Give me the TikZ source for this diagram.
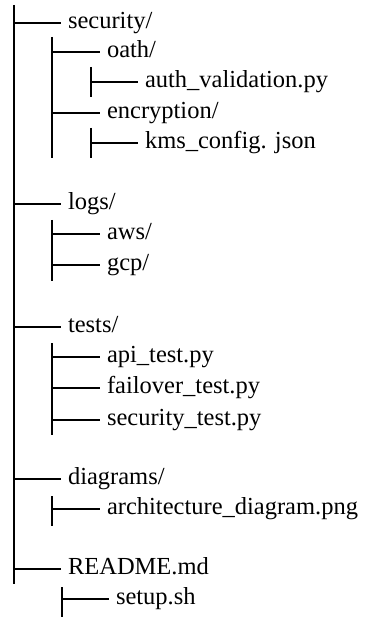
\documentclass[tikz,border=0pt]{standalone}
\usepackage{fontspec}
\setmainfont{Liberation Serif}
\begin{document}
\fontsize{24.5}{28}\selectfont
\begin{tikzpicture}[x=1pt,y=-1pt,line width=2pt,
  item/.style={anchor=mid west,inner sep=0pt,outer xsep=7pt,font=\fontsize{24.5}{28}\selectfont}]
\fontsize{24.5}{28}\selectfont
\useasboundingbox (0,0) rectangle (375,617);
% nodes
\node[item] (security)   at (61,23)  {security/};
\node[item] (oath)       at (100,52) {oath/};
\node[item] (auth)       at (138,82) {auth\_validation.py};
\node[item] (encryption) at (100,113) {encryption/};
\node[item] (kms)        at (138,143) {kms\_config. json};
\node[item] (logs)       at (61,204) {logs/};
\node[item] (aws)        at (100,234) {aws/};
\node[item] (gcp)        at (100,265) {gcp/};
\node[item] (tests)      at (61,327) {tests/};
\node[item] (api)        at (100,357) {api\_test.py};
\node[item] (failover)   at (100,388) {failover\_test.py};
\node[item] (sectest)    at (100,420) {security\_test.py};
\node[item] (diagrams)   at (61,479) {diagrams/};
\node[item] (arch)       at (100,509) {architecture\_diagram.png};
\node[item] (readme)     at (61,569) {README.md};
\node[item] (setup)      at (109,599) {setup.sh};
% vertical trunks
\coordinate (m0) at (14,5);   \coordinate (m1) at (14,584);
\coordinate (s0) at (52,37);  \coordinate (s1) at (52,158);
\coordinate (o0) at (91,67);  \coordinate (o1) at (91,97);
\coordinate (e0) at (91,128); \coordinate (e1) at (91,158);
\coordinate (l0) at (52,220); \coordinate (l1) at (52,281);
\coordinate (t0) at (52,343); \coordinate (t1) at (52,435);
\coordinate (d0) at (52,496); \coordinate (d1) at (52,526);
\coordinate (r0) at (62,587); \coordinate (r1) at (62,617);
\foreach \a/\b in {m0/m1,s0/s1,o0/o1,e0/e1,l0/l1,t0/t1,d0/d1,r0/r1}
  \draw (\a) -- (\b);
% branches
\foreach \v/\n in {m0/security,m0/logs,m0/tests,m0/diagrams,m0/readme,
  s0/oath,s0/encryption,o0/auth,e0/kms,l0/aws,l0/gcp,
  t0/api,t0/failover,t0/sectest,d0/arch,r0/setup}
  \draw (\v |- \n.mid west) -- (\n.mid west);
\end{tikzpicture}
\end{document}
